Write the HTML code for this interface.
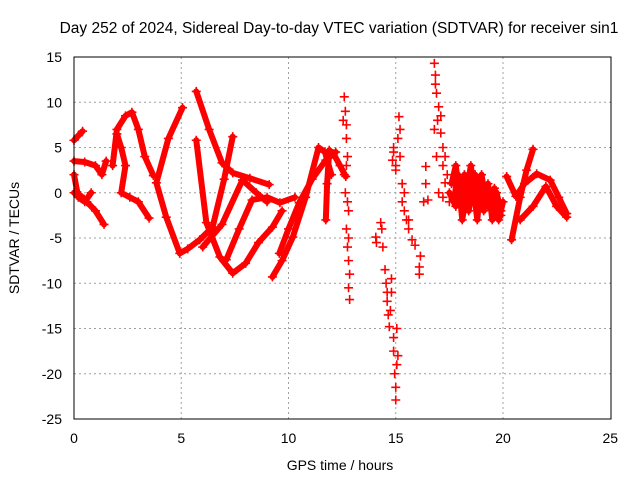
<!DOCTYPE html>
<html><head><meta charset="utf-8"><style>
body{margin:0;background:#fff}
svg{display:block;font-family:"Liberation Sans",sans-serif}
</style></head><body>
<svg id="chart" width="640" height="480" xmlns="http://www.w3.org/2000/svg">
<text x="339" y="33" font-size="15.5" text-anchor="middle">Day 252 of 2024, Sidereal Day-to-day VTEC variation (SDTVAR) for receiver sin1</text>
<g id="grid"></g>
<g id="ticks" font-size="14"></g>
<g id="marks"></g>
<rect x="74" y="57" width="537" height="362" fill="none" stroke="#000" stroke-width="1"/>
<text x="340" y="470" font-size="14" text-anchor="middle">GPS time / hours</text>
<text transform="translate(19,238) rotate(-90)" font-size="14" text-anchor="middle">SDTVAR / TECUs</text>
</svg>
<script>
const xTicks=[0,5,10,15,20,25];
const yTicks=[15,10,5,0,-5,-10,-15,-20,-25];
// tracks: times (hours) and values (TECU)
const trackT=[
[0,0.2,0.4],
[0,0.5,1.0,1.3,1.5],
[0,0.3,0.6,1.0,1.4],
[0,0.2,0.5,0.8],
[1.8,2.0,2.4,2.7,3.0,3.3,3.7],
[2.0,2.2,2.4,2.2,2.6,3.0,3.5],
[5.06,4.4,3.84,4.3,4.93,5.3,5.86,6.46,7.0,7.4],
[5.7,6.3,6.9,7.4,8.2,9.1],
[5.7,6.17,6.8,7.4,8.0,8.6,9.25,9.7],
[6.0,6.9,7.85,8.5,9.0],
[7.1,7.7,8.3,9.0,9.6,10.3],
[9.25,9.7,10.2,10.8,11.4,11.7,12.0],
[9.57,10.0,10.5,11.1,11.74,12.2],
[11.74,11.8,11.9,12.1,12.4,12.67],
[17.6,17.8,18.0,18.2,18.4,18.6,18.8,19.0,19.2,19.4,19.6,19.8,20.0],
[17.7,17.9,18.1,18.3,18.5,18.7,18.9,19.1,19.3,19.5,19.7,19.9],
[20.4,20.8,21.1,21.4],
[20.17,20.6,21.0,21.57,22.2,22.6,22.97],
[20.8,21.4,22.0,22.5,22.97],
[17.5,17.8,18.1,18.4,18.7,19.0,19.3,19.6,19.9]
];
const trackV=[
[5.8,6.3,6.8],
[3.5,3.4,3.0,2.0,3.5],
[0,-0.3,-1.0,-2.0,-3.5],
[2,-0.5,-1,0],
[3,7,8.5,8.9,7,4,1.9],
[6.5,5,3,0,-0.5,-1,-2.8],
[9.4,6,1.1,-2.7,-6.7,-6.2,-5.2,-3.8,1.5,6.2],
[11.2,7,3.3,2.2,1.6,0.9],
[5.8,-3.3,-7.1,-8.9,-7.8,-5.5,-3.8,-2],
[-6,-3.5,1.4,0,-1],
[-7.4,-4,-0.8,-0.5,-1.1,-0.5],
[-9.3,-7.5,-4.9,-0.5,5,4.5,2],
[-6.7,-4,-1.1,1.5,3.6,4.5],
[-3,1,4.7,4.3,3,1.8],
[1,3,-1,2,-2,1,-3,2,-1,0,-2,-3,-1],
[-1,2,-3,0,3,-1,1,-2,1,-3,0,-2],
[-5.2,-0.5,2.5,4.8],
[1.8,-0.4,1,2.1,1.4,-0.5,-2.3],
[-3,-1.5,0.7,-1.5,-2.7],
[0,-1.5,1.5,-0.5,2,0.5,-1.5,0.5,-2.5]
];
// scattered spike points
const scatT=[12.6,12.65,12.7,12.7,12.75,12.6,12.65,12.8,12.7,12.75,12.8,12.85,12.8,12.85,12.55,12.7,12.75,12.8,
14.07,14.1,14.3,14.35,14.4,14.5,14.55,14.6,14.7,14.75,14.8,14.8,14.9,15.0,14.95,15.1,15.0,15.05,14.6,14.65,14.9,15.05,
14.85,14.9,15.0,15.15,15.1,15.2,15.3,15.3,15.4,15.5,15.6,15.76,15.9,16.1,16.15,16.1,16.3,16.4,16.5,16.4,14.9,15.0,15.2,15.4,15.6,
16.8,16.85,16.9,17.0,16.95,17.1,17.2,16.8,17.3,17.2,17.4,16.9,17.0,17.5,17.1,17.3,16.85,17.2];
const scatV=[10.6,9,7.5,6,4,2,0,-2,-4,-6,-7.5,-9,-10.5,-11.8,8,3,-1,-5,
-4.9,-5.5,-3.3,-4,-6,-8.5,-10,-12,-14.8,-13,-11,-9.5,-16,-22.9,-20,-18,-21.5,-15,-11,-13.5,-17.5,-19,
3.6,4.5,2.5,8.4,6,4,1,-1,-2,-3,-4,-5.2,-5.8,-8.2,-7,-9,-1,2.9,-0.8,1,5,3,7,0,-3,
14.3,13,11,9.5,8,6.6,5,7,1.1,3,2,4,0,-1,8.5,4,12,-0.5];
const X=t=>74+t*21.45, Y=v=>57+(15-v)*9.05;
const NS="http://www.w3.org/2000/svg";
const grid=document.getElementById('grid'),ticks=document.getElementById('ticks'),marks=document.getElementById('marks');
function mk(tag,attrs,parent){const e=document.createElementNS(NS,tag);for(const k in attrs)e.setAttribute(k,attrs[k]);parent.appendChild(e);return e;}
xTicks.forEach(t=>{
 if(t>0&&t<25){const l=mk('line',{x1:X(t),x2:X(t),y1:57,y2:419,stroke:'#a0a0a0','stroke-dasharray':'2,3'},grid);
 
 }
 const tx=mk('text',{x:X(t),y:443,'text-anchor':'middle'},ticks);tx.textContent=t;
 
 
});
yTicks.forEach(v=>{
 if(v<15&&v>-25){const l=mk('line',{x1:74,x2:611,y1:Y(v),y2:Y(v),stroke:'#a0a0a0','stroke-dasharray':'2,3'},grid);
 
 }
 const tx=mk('text',{x:62,y:Y(v)+5,'text-anchor':'end'},ticks);tx.textContent=v;
 
 
});
function plus(x,y,g){mk('path',{d:`M${x-4.5},${y}h9M${x},${y-4.5}v9`,stroke:'#f00','stroke-width':1.6,fill:'none'},g);}
trackT.forEach((ts,i)=>{
 const vs=trackV[i];
 const pts=ts.map((t,j)=>X(t)+','+Y(vs[j])).join(' ');
 const pl=mk('polyline',{points:pts,fill:'none',stroke:'#f00','stroke-width':6,'stroke-linejoin':'round','stroke-linecap':'round'},marks);
 
 
 ts.forEach((t,j)=>plus(X(t),Y(vs[j]),marks));
});
scatT.forEach((t,i)=>{
 const g=mk('g',{},marks);
 
 
 plus(X(t),Y(scatV[i]),g);
});
</script>
</body></html>
